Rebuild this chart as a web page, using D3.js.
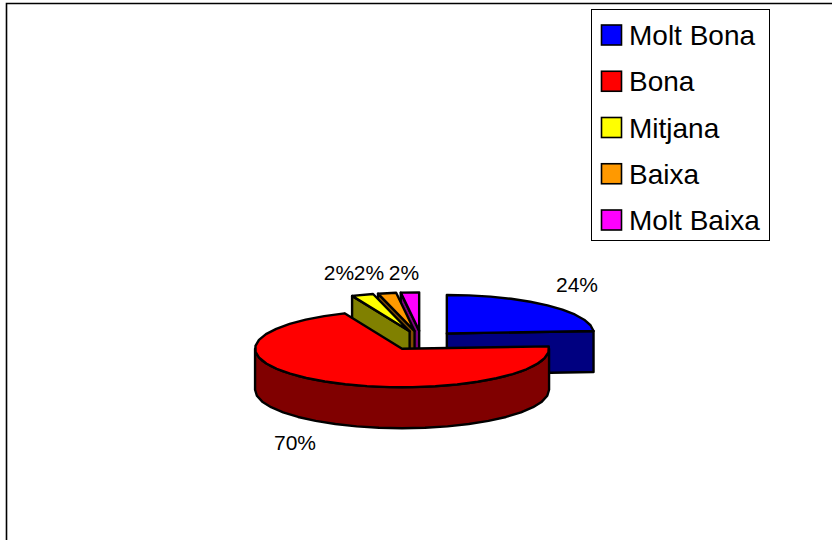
<!DOCTYPE html>
<html><head><meta charset="utf-8">
<script src="https://cdnjs.cloudflare.com/ajax/libs/d3/7.8.5/d3.min.js"></script>
<style>html,body{margin:0;padding:0;background:#fff}svg{display:block}text{font-family:"Liberation Sans",Arial,sans-serif;fill:#000}</style>
</head><body><svg id="c" width="832" height="540"></svg>
<script>
const categories = ["Molt Bona","Bona","Mitjana","Baixa","Molt Baixa"];
const values = [24,69.6,2.4,2,2];
const tickLabels = ["24%","70%","2%","2%","2%"];
const topColors = ["#0000ff","#ff0000","#ffff00","#ff9900","#ff00ff"];
const sideColors = ["#000080","#800000","#808000","#804c00","#800080"];

const svg = d3.select("#c");
const cx = 421.5, cy = 340.5, rx = 147, ry = 38.5, depth = 41, explode = 37;
const line = d3.line();
const arcs = d3.pie().sort(null).value(d => d)(values);
const sx = d3.scaleLinear().domain([-1,1]).range([-rx,rx]);
const sy = d3.scaleLinear().domain([-1,1]).range([ry,-ry]);

// frame
svg.append("path").attr("d","M6.5,540V3.5H832").attr("fill","none").attr("stroke","#000").attr("stroke-width",1.6);

const proj = (a, o, r=1) => [o[0] + sx(Math.sin(a)*r), o[1] + sy(Math.cos(a)*r)];
const rim = (a0, a1) => {
  const n = Math.max(1, Math.ceil((a1-a0)/(9*Math.PI/180))), p = [];
  for (let i=0;i<=n;i++) p.push(a0+(a1-a0)*i/n);
  return p;
};
const drawOrder = [0,4,3,2,1];
const style = (sel, fill) => sel.attr("fill",fill).attr("stroke","#000").attr("stroke-width",2.4).attr("stroke-linejoin","round");
drawOrder.forEach(i => {
  const d = arcs[i], mid = (d.startAngle+d.endAngle)/2;
  const o = [cx + sx(Math.sin(mid)*explode/rx), cy + sy(Math.cos(mid)*explode/rx)];
  const down = p => [p[0], p[1]+depth];
  const g = svg.append("g");
  const pS = proj(d.startAngle,o), pE = proj(d.endAngle,o);
  // radial wall visible from the front
  if (i === 0) {
    style(g.append("path").attr("d", line([o,pE,down(pE),down(o)])+"Z"), sideColors[i]);
  } else if (i !== 1) {
    style(g.append("path").attr("d", line([pS,o,down(o),down(pS)])+"Z"), sideColors[i]);
  }
  // outer wall on the front half
  const fa0 = Math.max(d.startAngle, Math.PI/2), fa1 = Math.min(d.endAngle, 3*Math.PI/2);
  if (fa1 > fa0) {
    const top = rim(fa0,fa1).map(a => proj(a,o));
    style(g.append("path").attr("d", line(top.concat(top.slice().reverse().map(down)))+"Z"), sideColors[i]);
  }
  // top face
  style(g.append("path").attr("d", line([o].concat(rim(d.startAngle,d.endAngle).map(a=>proj(a,o))))+"Z"), topColors[i]);
});

// data labels
const labelPos = [[577,292],[295,450],[339,280],[369,280],[404,280]];
svg.append("g").selectAll("text").data(tickLabels).join("text")
  .attr("x",(d,i)=>labelPos[i][0]).attr("y",(d,i)=>labelPos[i][1])
  .attr("text-anchor","middle").attr("font-size",21).text(d=>d);

// legend
const legend = svg.append("g");
legend.append("rect").attr("x",591.5).attr("y",9.5).attr("width",178).attr("height",231)
  .attr("fill","#fff").attr("stroke","#000").attr("stroke-width",1);
const ly = d3.scalePoint().domain(categories).range([35,220]);
const rows = legend.selectAll("g").data(categories).join("g").attr("transform",d=>`translate(0,${ly(d)})`);
rows.append("rect").attr("x",601.5).attr("y",-10).attr("width",20).attr("height",20)
  .attr("fill",(d,i)=>topColors[i]).attr("stroke","#000").attr("stroke-width",1.6);
rows.append("text").attr("x",629).attr("y",10).attr("font-size",28).text(d=>d);
</script></body></html>
